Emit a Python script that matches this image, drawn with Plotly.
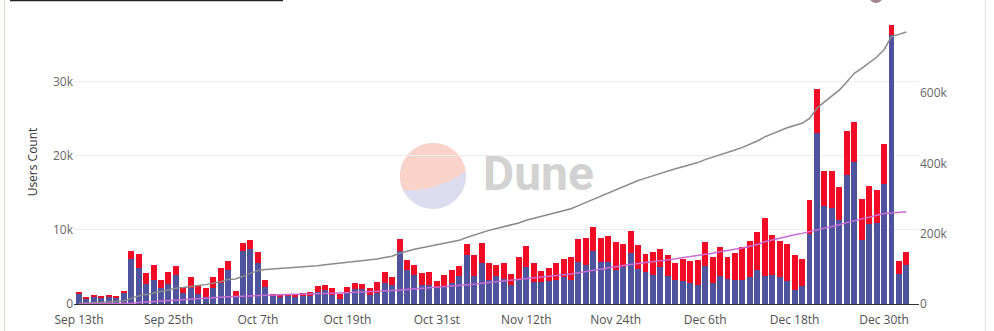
import math
import numpy as np
import pandas as pd
import plotly.graph_objects as go
from plotly.subplots import make_subplots

# ---- data -----------------------------------------------------------------
dates = pd.date_range("2021-09-13", "2022-01-02", freq="D")

returning_users = [
    # Sep 13 - Sep 30
    1300, 800, 1070, 940, 980, 900, 1430, 6100, 4850, 2750, 3200, 2100, 2650, 3950, 1550, 2200, 1400, 1000,
    # Oct
    2200, 2800, 4550, 1000, 7200, 7450, 5500, 2300, 1100, 1000, 1070, 1000, 1100, 1100, 1650, 1870, 1250,
    700, 1430, 2050, 2000, 1180, 1550, 2820, 2550, 7200, 4550, 3900, 2600, 2550, 2100,
    # Nov
    2400, 2850, 3750, 6550, 3750, 5500, 3300, 3750, 3400, 2500, 3200, 5000, 3000, 3000, 3100,
    3200, 3650, 3300, 5650, 5200, 7200, 5650, 5650, 4550, 5000, 6850, 4700, 4300, 3900, 5050,
    # Dec
    3750, 3200, 3100, 2850, 2600, 5100, 2800, 3750, 3400, 3200, 3300, 3600, 4650, 3750, 3900,
    3600, 3100, 1950, 2400, 9450, 23100, 13250, 12900, 11300, 17400, 19100, 8600, 10800, 11000,
    16200, 36300,
    # Jan
    4100, 5300,
]

new_users = [
    # Sep 13 - Sep 30
    300, 200, 180, 130, 180, 80, 370, 1000, 1850, 1450, 2100, 1100, 1650, 1150, 650, 1400, 1000, 1200,
    # Oct
    1500, 2000, 1250, 700, 1100, 1150, 1550, 900, 300, 160, 270, 300, 370, 550, 750, 680, 900,
    640, 870, 850, 650, 920, 1450, 1480, 1070, 1600, 1450, 1350, 1600, 1780, 1050,
    # Nov
    1450, 1800, 1350, 1550, 2800, 2750, 2200, 1580, 2100, 1500, 3080, 2850, 2480, 1480, 1800,
    2300, 2450, 3000, 3150, 3700, 3200, 3250, 3550, 3850, 3100, 2950, 3200, 2400, 3100, 2350,
    # Dec
    2800, 2300, 2950, 2950, 3300, 3300, 3500, 3950, 3000, 3650, 4400, 4900, 5050, 7850, 5350,
    4950, 5000, 4700, 3700, 4550, 5900, 4650, 5000, 4500, 6000, 5400, 5600, 5100, 4450,
    5400, 1400,
    # Jan
    1750, 1700,
]

tick_dates = ["2021-09-13", "2021-09-25", "2021-10-07", "2021-10-19", "2021-10-31",
              "2021-11-12", "2021-11-24", "2021-12-06", "2021-12-18", "2021-12-30"]
tick_labels = ["Sep 13th", "Sep 25th", "Oct 7th", "Oct 19th", "Oct 31st",
               "Nov 12th", "Nov 24th", "Dec 6th", "Dec 18th", "Dec 30th"]

left_ticks = [0, 10000, 20000, 30000]
left_labels = ["0", "10k", "20k", "30k"]
right_ticks = [0, 200000, 400000, 600000]
right_labels = ["0", "200k", "400k", "600k"]

total_users = np.array(returning_users) + np.array(new_users)
cumulative_total = np.cumsum(total_users)
cumulative_new = np.cumsum(new_users)

# ---- figure geometry --------------------------------------------------------
W, H = 994, 331
ML, MR, MT, MB = 74, 75, 20, 27
PW, PH = W - ML - MR, H - MT - MB


def to_paper(X, Y):
    """Screen pixel -> paper coordinates."""
    return (X - ML) / PW, (H - MB - Y) / PH


BLUE = "#4f539e"
RED = "#f20b25"
GREY = "#8a8a8a"
PINK = "#c86cd4"
FONT = "Open Sans"

fig = make_subplots(specs=[[{"secondary_y": True}]])

fig.add_trace(go.Bar(x=dates, y=returning_users, marker=dict(color=BLUE, line=dict(width=0)),
                     name="Returning"), secondary_y=False)
fig.add_trace(go.Bar(x=dates, y=new_users, marker=dict(color=RED, line=dict(width=0)),
                     name="New"), secondary_y=False)
fig.add_trace(go.Scatter(x=dates, y=cumulative_total, mode="lines",
                         line=dict(color=GREY, width=1.5), name="Cumulative users"),
              secondary_y=True)
fig.add_trace(go.Scatter(x=dates, y=cumulative_new, mode="lines",
                         line=dict(color=PINK, width=1.5), name="Cumulative new users"),
              secondary_y=True)

# ---- watermark logo ----------------------------------------------------------
def arc_points(cx, cy, r, a0, a1, nseg):
    """Cubic bezier segments (screen coords) approximating a circle arc."""
    segs = []
    step = (a1 - a0) / nseg
    for i in range(nseg):
        t0 = math.radians(a0 + i * step)
        t1 = math.radians(a0 + (i + 1) * step)
        k = 4 / 3 * math.tan((t1 - t0) / 4)
        p0 = (r * math.cos(t0), r * math.sin(t0))
        p3 = (r * math.cos(t1), r * math.sin(t1))
        p1 = (p0[0] - k * r * math.sin(t0), p0[1] + k * r * math.cos(t0))
        p2 = (p3[0] + k * r * math.sin(t1), p3[1] - k * r * math.cos(t1))
        segs.append([(cx + p[0], cy - p[1]) for p in (p0, p1, p2, p3)])
    return segs


def fmt(pt):
    x, y = to_paper(*pt)
    return f"{x:.5f},{y:.5f}"


cx, cy, r = 433, 176, 33
circle = arc_points(cx, cy, r, 0, 360, 4)
path_full = "M " + fmt(circle[0][0]) + " " + " ".join(
    "C " + " ".join(fmt(p) for p in s[1:]) for s in circle) + " Z"

top = arc_points(cx, cy, r, 8, 205, 3)
start_right = top[0][0]
path_top = ("M " + fmt(start_right) + " " +
            " ".join("C " + " ".join(fmt(p) for p in s[1:]) for s in top) +
            " Q " + fmt((432, 193)) + " " + fmt(start_right) + " Z")

shapes = [
    dict(type="path", xref="paper", yref="paper", path=path_full,
         fillcolor="#dcdcee", line=dict(width=0), layer="below"),
    dict(type="path", xref="paper", yref="paper", path=path_top,
         fillcolor="#f9d3ca", line=dict(width=0), layer="below"),
]

# panel card edges
for X, col in ((4.5, "#e6d2cc"), (985.5, "#dedede")):
    x0, y0 = to_paper(X, H + 5)
    x1, y1 = to_paper(X, -5)
    shapes.append(dict(type="line", xref="paper", yref="paper", x0=x0, x1=x1, y0=y0, y1=y1,
                       line=dict(color=col, width=1)))

# header link underline and avatar edge
hx0, hy = to_paper(10, 0.6)
hx1, _ = to_paper(283, 0.6)
shapes.append(dict(type="line", xref="paper", yref="paper", x0=hx0, x1=hx1, y0=hy, y1=hy,
                   line=dict(color="#222222", width=1.5)))
ax0, ay0 = to_paper(869, 3)
ax1, ay1 = to_paper(883, -11)
shapes.append(dict(type="circle", xref="paper", yref="paper", x0=ax0, x1=ax1, y0=ay0, y1=ay1,
                   fillcolor="#a4878a", line=dict(width=0)))

tx, ty = to_paper(538, 174)
dx, dy = to_paper(496, 326.5)
annotations = [
    dict(text="<b>Dune</b>", xref="paper", yref="paper", x=tx, y=ty, xanchor="center",
         yanchor="middle", showarrow=False,
         font=dict(family="Roboto", size=48, color="#d2d2d2")),
    # x-axis title, sitting at the lower edge of the panel
    dict(text="Date", xref="paper", yref="paper", x=dx, y=dy, xanchor="center",
         yanchor="top", showarrow=False,
         font=dict(family=FONT, size=12, color="#333333")),
]

fig.update_layout(
    width=W, height=H,
    margin=dict(l=ML, r=MR, t=MT, b=MB),
    paper_bgcolor="white", plot_bgcolor="white",
    barmode="stack", bargap=0.2,
    showlegend=False,
    font=dict(family=FONT, size=12, color="#555555"),
    shapes=shapes,
    annotations=annotations,
)

fig.update_xaxes(
    domain=[0, 1],
    type="date",
    range=["2021-09-12 07:54", "2022-01-03 16:34"],
    tickvals=tick_dates, ticktext=tick_labels,
    showgrid=False, zeroline=False,
    showline=True, linecolor="#333333", linewidth=1,
    ticks="outside", ticklen=5, tickcolor="rgba(0,0,0,0)",
    tickfont=dict(size=12, color="#505050"),
    automargin=False,
)

fig.update_yaxes(
    range=[0, 38330], tickvals=left_ticks, ticktext=left_labels,
    showgrid=True, gridcolor="#ededed", gridwidth=1,
    zeroline=False, showline=False, ticks="",
    tickfont=dict(size=12, color="#666666"),
    title=dict(text="Users Count", font=dict(size=12, color="#333333"), standoff=12),
    automargin=False,
    secondary_y=False,
)

fig.update_yaxes(
    range=[0, 808700], tickvals=right_ticks, ticktext=right_labels,
    showgrid=False, zeroline=False, showline=False, ticks="",
    tickfont=dict(size=12, color="#666666"),
    automargin=False,
    secondary_y=True,
)

fig.write_html("out.html")
